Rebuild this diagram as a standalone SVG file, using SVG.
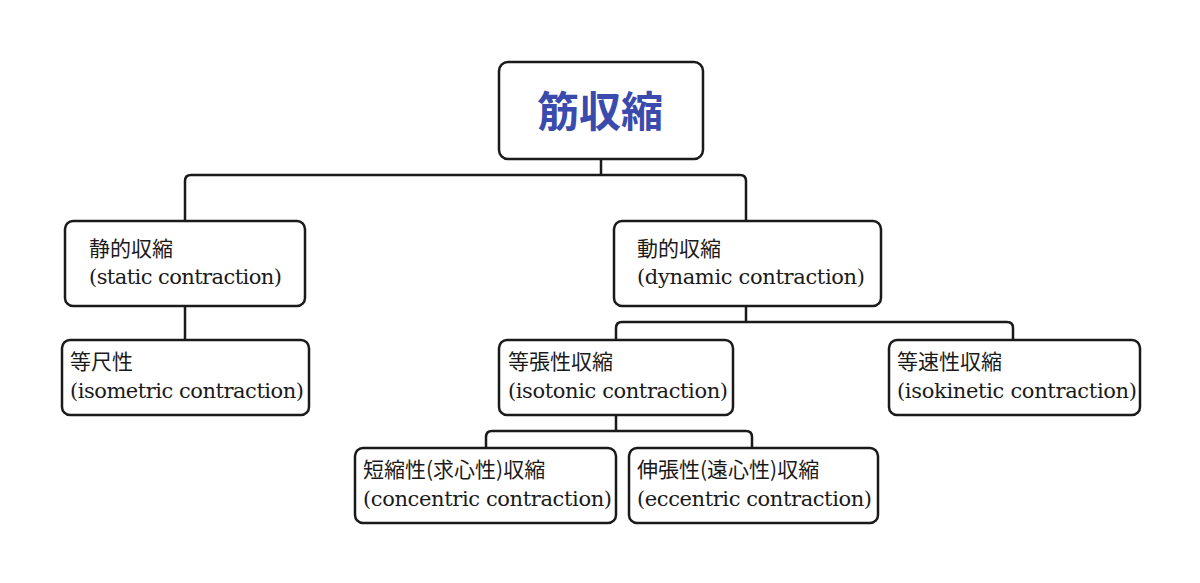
<svg xmlns="http://www.w3.org/2000/svg" width="1200" height="583" viewBox="0 0 1200 583">
<style>
.box{fill:#fff;stroke:#1a1a1a;stroke-width:2.5}
.conn{fill:none;stroke:#1a1a1a;stroke-width:2.5}
.t{font-family:"Noto Sans CJK JP",sans-serif;font-size:21px;fill:#1a1a1a}
.e{font-family:"DejaVu Serif","Liberation Serif",serif;font-size:21px;fill:#1a1a1a}
.root{font-family:"Noto Sans CJK JP",sans-serif;font-size:42px;font-weight:bold;fill:#3a4aad}
</style>
<rect width="1200" height="583" fill="#fff"/>
<g id="connectors">
<path class="conn" d="M601 159 V175 M185 221 V181 Q185 175 191 175 H740 Q746 175 746 181 V221"/>
<path class="conn" d="M185 306 V340"/>
<path class="conn" d="M746 306 V322 M616 340 V328 Q616 322 622 322 H1007 Q1013 322 1013 328 V340"/>
<path class="conn" d="M616 415 V431 M486 448 V437 Q486 431 492 431 H746 Q752 431 752 437 V448"/>
</g>
<g id="root">
<rect class="box" x="499" y="62" width="204" height="97" rx="9"/>
<text class="root" x="600" y="127" text-anchor="middle">筋収縮</text>
</g>
<g id="static">
<rect class="box" x="65" y="221" width="240" height="85" rx="8"/>
<text class="t" x="89" y="256">静的収縮</text>
<text class="e" x="89" y="284" textLength="193">(static contraction)</text>
</g>
<g id="isometric">
<rect class="box" x="62" y="340" width="247" height="75" rx="8"/>
<text class="t" x="70" y="369">等尺性</text>
<text class="e" x="70" y="398" textLength="234">(isometric contraction)</text>
</g>
<g id="dynamic">
<rect class="box" x="614" y="221" width="267" height="85" rx="8"/>
<text class="t" x="637" y="256">動的収縮</text>
<text class="e" x="637" y="284" textLength="228">(dynamic contraction)</text>
</g>
<g id="isotonic">
<rect class="box" x="499" y="340" width="234" height="75" rx="8"/>
<text class="t" x="508" y="369">等張性収縮</text>
<text class="e" x="508" y="398" textLength="220">(isotonic contraction)</text>
</g>
<g id="isokinetic">
<rect class="box" x="889" y="340" width="251" height="75" rx="8"/>
<text class="t" x="897" y="369">等速性収縮</text>
<text class="e" x="897" y="398" textLength="240">(isokinetic contraction)</text>
</g>
<g id="concentric">
<rect class="box" x="355" y="448" width="261" height="75" rx="8"/>
<text class="t" x="363" y="477">短縮性(求心性)収縮</text>
<text class="e" x="363" y="506" textLength="249">(concentric contraction)</text>
</g>
<g id="eccentric">
<rect class="box" x="629" y="448" width="249" height="75" rx="8"/>
<text class="t" x="637" y="477">伸張性(遠心性)収縮</text>
<text class="e" x="637" y="506" textLength="235">(eccentric contraction)</text>
</g>
</svg>
